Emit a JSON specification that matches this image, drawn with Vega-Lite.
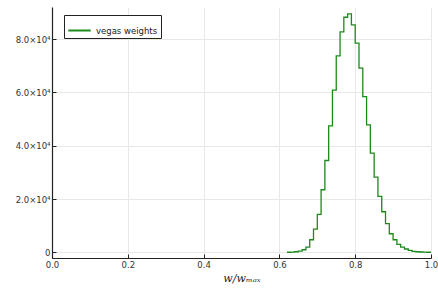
{
  "$schema": "https://vega.github.io/schema/vega-lite/v6.json",
  "width": 379,
  "height": 251,
  "autosize": {"type": "none"},
  "padding": {"left": 52, "top": 7, "right": 7, "bottom": 30},
  "background": "white",
  "config": {
    "view": {"stroke": null},
    "font": "DejaVu Sans",
    "axis": {
      "domainColor": "#222222",
      "domainWidth": 1.2,
      "tickColor": "#222222",
      "gridColor": "#e8e8e8",
      "gridWidth": 1,
      "labelFont": "DejaVu Sans",
      "labelFontSize": 8.5,
      "labelColor": "#333333",
      "labelFlush": false,
      "tickSize": -4
    }
  },
  "data": {
    "values": [
      {"w": 0.62, "count": 60, "series": "vegas weights"},
      {"w": 0.63, "count": 120, "series": "vegas weights"},
      {"w": 0.64, "count": 250, "series": "vegas weights"},
      {"w": 0.65, "count": 500, "series": "vegas weights"},
      {"w": 0.66, "count": 1000, "series": "vegas weights"},
      {"w": 0.67, "count": 2000, "series": "vegas weights"},
      {"w": 0.68, "count": 4750, "series": "vegas weights"},
      {"w": 0.69, "count": 8760, "series": "vegas weights"},
      {"w": 0.70, "count": 14230, "series": "vegas weights"},
      {"w": 0.71, "count": 23480, "series": "vegas weights"},
      {"w": 0.72, "count": 34450, "series": "vegas weights"},
      {"w": 0.73, "count": 47450, "series": "vegas weights"},
      {"w": 0.74, "count": 60820, "series": "vegas weights"},
      {"w": 0.75, "count": 73660, "series": "vegas weights"},
      {"w": 0.76, "count": 82650, "series": "vegas weights"},
      {"w": 0.77, "count": 88150, "series": "vegas weights"},
      {"w": 0.78, "count": 89390, "series": "vegas weights"},
      {"w": 0.79, "count": 85270, "series": "vegas weights"},
      {"w": 0.80, "count": 78420, "series": "vegas weights"},
      {"w": 0.81, "count": 69060, "series": "vegas weights"},
      {"w": 0.82, "count": 58420, "series": "vegas weights"},
      {"w": 0.83, "count": 47820, "series": "vegas weights"},
      {"w": 0.84, "count": 37220, "series": "vegas weights"},
      {"w": 0.85, "count": 28240, "series": "vegas weights"},
      {"w": 0.86, "count": 20970, "series": "vegas weights"},
      {"w": 0.87, "count": 15240, "series": "vegas weights"},
      {"w": 0.88, "count": 10750, "series": "vegas weights"},
      {"w": 0.89, "count": 7000, "series": "vegas weights"},
      {"w": 0.90, "count": 4750, "series": "vegas weights"},
      {"w": 0.91, "count": 3000, "series": "vegas weights"},
      {"w": 0.92, "count": 2000, "series": "vegas weights"},
      {"w": 0.93, "count": 1270, "series": "vegas weights"},
      {"w": 0.94, "count": 750, "series": "vegas weights"},
      {"w": 0.95, "count": 400, "series": "vegas weights"},
      {"w": 0.96, "count": 250, "series": "vegas weights"},
      {"w": 0.97, "count": 150, "series": "vegas weights"},
      {"w": 0.98, "count": 80, "series": "vegas weights"},
      {"w": 0.99, "count": 50, "series": "vegas weights"},
      {"w": 1.0, "count": 50, "series": "vegas weights"}
    ]
  },
  "mark": {"type": "line", "interpolate": "step-after", "strokeWidth": 1.3, "clip": true},
  "encoding": {
    "x": {
      "field": "w",
      "type": "quantitative",
      "scale": {"domain": [0, 1], "nice": false, "zero": false},
      "axis": {
        "values": [0, 0.2, 0.4, 0.6, 0.8, 1.0],
        "format": ".1f",
        "labelPadding": 6,
        "title": "w/wₘₐₓ",
        "titleFont": "DejaVu Serif",
        "titleFontStyle": "italic",
        "titleFontWeight": "normal",
        "titleFontSize": 11,
        "titleColor": "#222222",
        "titlePadding": 4
      }
    },
    "y": {
      "field": "count",
      "type": "quantitative",
      "scale": {"domain": [-2100, 92000], "nice": false, "zero": false},
      "axis": {
        "values": [0, 20000, 40000, 60000, 80000],
        "labelExpr": "datum.value == 0 ? '0' : format(datum.value / 10000, '.1f') + '×10⁴'",
        "labelPadding": 6,
        "title": null
      }
    },
    "color": {
      "field": "series",
      "type": "nominal",
      "scale": {"range": ["#1a8a1a"]},
      "legend": {
        "title": null,
        "orient": "none",
        "legendX": 12,
        "legendY": 8,
        "symbolType": "stroke",
        "symbolSize": 500,
        "symbolStrokeWidth": 2,
        "labelFont": "DejaVu Sans",
        "labelFontSize": 8.5,
        "labelColor": "#222222",
        "fillColor": "white",
        "strokeColor": "#222222",
        "padding": 3
      }
    }
  }
}
